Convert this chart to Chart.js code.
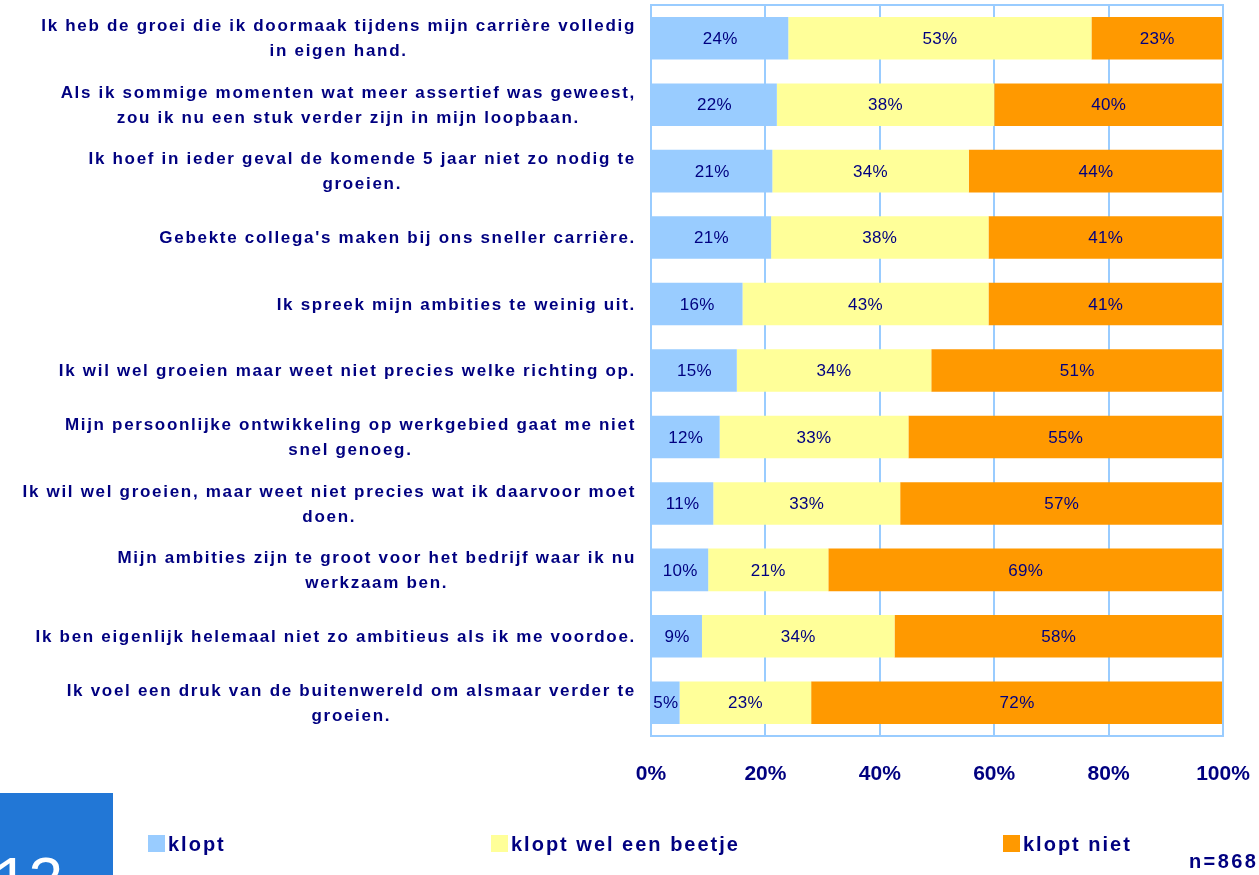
<!DOCTYPE html>
<html>
<head>
<meta charset="utf-8">
<script src="https://cdn.jsdelivr.net/npm/chart.js@4.4.1/dist/chart.umd.min.js"></script>
<style>
  body { margin: 0; background: #fff; font-family: "Liberation Sans", Arial, sans-serif; }
  #wrap { position: relative; width: 1259px; height: 875px; overflow: hidden; }
  #wrap canvas { position: absolute; left: 0; top: 0; }
  .leg { position: absolute; top: 833px; font-weight: bold; font-size: 20px; letter-spacing: 2px; color: #000080; white-space: nowrap; }
  .leg span { display: inline-block; width: 17px; height: 17px; vertical-align: -1px; margin-right: 3px; }
  #pageBox { position: absolute; left: 0; top: 793px; width: 113px; height: 82px; background: #2277d6; overflow: hidden; }
  #pageBox div { position: absolute; left: -6px; top: 50px; color: #fff; font-size: 62px; font-family: "Liberation Sans", Arial, sans-serif; }
  #nCount { position: absolute; left: 1189px; top: 850px; font-weight: bold; font-size: 20px; letter-spacing: 2.4px; color: #000080; }
</style>
</head>
<body>
<div id="wrap">
  <canvas id="stackChart" width="1259" height="875"></canvas>
  <div id="pageBox"><div>12</div></div>
  <div class="leg" style="left:148px"><span style="background:#99ccff"></span>klopt</div>
  <div class="leg" style="left:491px"><span style="background:#ffff99"></span>klopt wel een beetje</div>
  <div class="leg" style="left:1003px"><span style="background:#ff9900"></span>klopt niet</div>
  <div id="nCount">n=868</div>
</div>
<script>
// Statements (top to bottom)
const statements = [
    ['Ik heb de groei die ik doormaak tijdens mijn carrière volledig', 'in eigen hand.'],
    ['Als ik sommige momenten wat meer assertief was geweest,', 'zou ik nu een stuk verder zijn in mijn loopbaan.'],
    ['Ik hoef in ieder geval de komende 5 jaar niet zo nodig te', 'groeien.'],
    ["Gebekte collega's maken bij ons sneller carrière."],
    ['Ik spreek mijn ambities te weinig uit.'],
    ['Ik wil wel groeien maar weet niet precies welke richting op.'],
    ['Mijn persoonlijke ontwikkeling op werkgebied gaat me niet', 'snel genoeg.'],
    ['Ik wil wel groeien, maar weet niet precies wat ik daarvoor moet', 'doen.'],
    ['Mijn ambities zijn te groot voor het bedrijf waar ik nu', 'werkzaam ben.'],
    ['Ik ben eigenlijk helemaal niet zo ambitieus als ik me voordoe.'],
    ['Ik voel een druk van de buitenwereld om alsmaar verder te', 'groeien.']
];

const klopt = [24, 22, 21, 21, 16, 15, 12, 11, 10, 9, 5];
const kloptBeetje = [53, 38, 34, 38, 43, 34, 33, 33, 21, 34, 23];
const kloptNiet = [23, 40, 44, 41, 41, 51, 55, 57, 69, 58, 72];

const xTicks = ['0%', '20%', '40%', '60%', '80%', '100%'];

const navy = '#000080';
const gridBlue = '#99ccff';

// rows are shown as 100% bars, so scale each row by its own total
const rowTotals = klopt.map((v, i) => v + kloptBeetje[i] + kloptNiet[i]);
const share = arr => arr.map((v, i) => v / rowTotals[i] * 100);

const rawValues = [klopt, kloptBeetje, kloptNiet];

// percentage labels inside the segments
const segmentLabels = {
    id: 'segmentLabels',
    afterDatasetsDraw(chart) {
        const ctx = chart.ctx;
        ctx.save();
        ctx.font = '17px "Liberation Sans", Arial, sans-serif';
        ctx.letterSpacing = '0.3px';
        ctx.fillStyle = navy;
        ctx.textAlign = 'center';
        ctx.textBaseline = 'middle';
        chart.data.datasets.forEach((ds, d) => {
            chart.getDatasetMeta(d).data.forEach((bar, i) => {
                const p = bar.getProps(['x', 'y', 'base'], true);
                ctx.fillText(rawValues[d][i] + '%', (p.x + p.base) / 2, p.y + 1);
            });
        });
        ctx.restore();
    }
};

// category text: right block, lines centred on each other
const statementLabels = {
    id: 'statementLabels',
    afterDraw(chart) {
        const ctx = chart.ctx;
        const yScale = chart.scales.y;
        const right = chart.chartArea.left - 15;
        ctx.save();
        ctx.font = 'bold 17px "Liberation Sans", Arial, sans-serif';
        ctx.letterSpacing = '1.7px';
        ctx.fillStyle = navy;
        ctx.textAlign = 'center';
        ctx.textBaseline = 'middle';
        statements.forEach((lines, i) => {
            const w = Math.max(...lines.map(l => ctx.measureText(l).width));
            const cx = right - w / 2;
            const cy = yScale.getPixelForTick(i) + 1;
            const lh = 25;
            const top = cy - (lines.length - 1) * lh / 2;
            lines.forEach((l, k) => ctx.fillText(l, cx, top + k * lh));
        });
        ctx.restore();
    }
};

// light blue frame around the plot area
const plotFrame = {
    id: 'plotFrame',
    afterDatasetsDraw(chart) {
        const a = chart.chartArea;
        const ctx = chart.ctx;
        ctx.save();
        ctx.strokeStyle = gridBlue;
        ctx.lineWidth = 2;
        ctx.strokeRect(a.left, a.top, a.right - a.left, a.bottom - a.top);
        ctx.restore();
    }
};

const ctxStack = document.getElementById('stackChart').getContext('2d');
const stackChart = new Chart(ctxStack, {
    type: 'bar',
    data: {
        labels: statements,
        datasets: [
            { label: 'klopt', data: share(klopt), backgroundColor: '#99ccff' },
            { label: 'klopt wel een beetje', data: share(kloptBeetje), backgroundColor: '#ffff99' },
            { label: 'klopt niet', data: share(kloptNiet), backgroundColor: '#ff9900' }
        ]
    },
    options: {
        indexAxis: 'y',
        responsive: false,
        animation: false,
        layout: { padding: { top: 5, right: 36, left: 0, bottom: 0 } },
        datasets: { bar: { categoryPercentage: 1, barPercentage: 0.64, borderWidth: 0 } },
        plugins: { legend: { display: false }, tooltip: { enabled: false } },
        scales: {
            x: {
                stacked: true,
                min: 0,
                max: 100,
                afterFit: s => { s.height = 139; s.paddingLeft = 0; s.paddingRight = 0; },
                grid: { color: gridBlue, lineWidth: 2, drawTicks: false },
                border: { display: false },
                ticks: {
                    stepSize: 20,
                    padding: 26,
                    color: navy,
                    font: { family: '"Liberation Sans", Arial, sans-serif', size: 21, weight: 'bold' },
                    callback: (v, i) => xTicks[i]
                }
            },
            y: {
                stacked: true,
                afterFit: s => { s.width = 651; },
                grid: { display: false },
                border: { display: false },
                ticks: { display: false }
            }
        }
    },
    plugins: [segmentLabels, statementLabels, plotFrame]
});
</script>
</body>
</html>
